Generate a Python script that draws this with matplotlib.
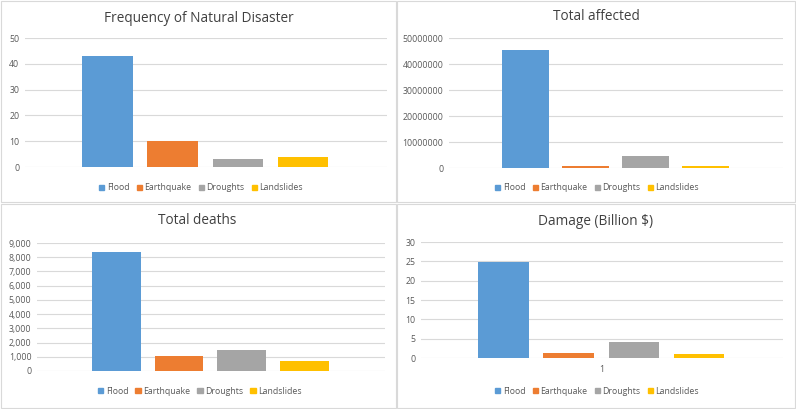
import numpy as np
import matplotlib
matplotlib.use("Agg")
import matplotlib.pyplot as plt
from matplotlib.patches import Rectangle
from matplotlib.ticker import FuncFormatter

# data
disasters = ["Flood", "Earthquake", "Droughts", "Landslides"]
frequency = [43, 10, 3, 4]
total_affected = [45300000, 800000, 4600000, 900000]
total_deaths = [8370, 1050, 1470, 700]
damage_billion = [24.9, 1.3, 4.1, 1.0]

colors = ["#5B9BD5", "#ED7D31", "#A5A5A5", "#FFC000"]
plt.rcParams["font.family"] = ["Open Sans", "DejaVu Sans"]

W, H = 796, 409
fig = plt.figure(figsize=(W / 100, H / 100), dpi=100)
fig.patch.set_facecolor("white")


def px_axes(left, right, top, bottom):
    return fig.add_axes([left / W, 1 - bottom / H, (right - left) / W, (bottom - top) / H])


def panel(ax, values, ymax, step, title, title_xy, legend_xy, fmt=None, xlabel=None):
    x = np.arange(len(values))
    ax.bar(x, values, width=0.78, color=colors, label=disasters, zorder=3)
    ax.set_xlim(-1.27, 4.29)
    ax.set_ylim(0, ymax)
    ax.set_yticks(np.arange(0, ymax + step / 2, step))
    if fmt:
        ax.yaxis.set_major_formatter(FuncFormatter(fmt))
    ax.grid(axis="y", color="#d9d9d9", linewidth=0.8, zorder=0)
    for s in ax.spines.values():
        s.set_visible(False)
    ax.tick_params(axis="y", length=0, labelsize=6.3, labelcolor="#595959", pad=4)
    if xlabel:
        ax.set_xticks([1.5])
        ax.set_xticklabels([xlabel])
        ax.tick_params(axis="x", length=0, labelsize=6.3, labelcolor="#595959", pad=5)
    else:
        ax.set_xticks([])
    fig.text(title_xy[0] / W, 1 - title_xy[1] / H, title, ha="center", va="center",
             fontsize=9.8, color="#404040")
    handles = [Rectangle((0, 0), 1, 1, color=c) for c in colors]
    fig.legend(handles, disasters, loc="center", bbox_to_anchor=(legend_xy[0] / W, 1 - legend_xy[1] / H),
               ncol=4, frameon=False, fontsize=6.3, labelcolor="#595959",
               handlelength=0.6, handleheight=0.6, handletextpad=0.3, columnspacing=0.8)


ax1 = px_axes(25, 387, 38, 167)
panel(ax1, frequency, 50, 10, "Frequency of Natural Disaster", (199, 18), (201, 188))

ax2 = px_axes(449, 783, 38, 168)
panel(ax2, total_affected, 50000000, 10000000, "Total affected", (596, 17), (597, 188),
      fmt=lambda v, p: f"{int(v)}")

ax3 = px_axes(37, 385, 243, 371)
panel(ax3, total_deaths, 9000, 1000, "Total deaths", (197, 221), (200, 391),
      fmt=lambda v, p: f"{int(v):,}")

ax4 = px_axes(421, 783, 242, 358)
panel(ax4, damage_billion, 30, 5, "Damage (Billion $)", (596, 222), (597, 391), xlabel="1")

# light panel borders
border = "#d9d9d9"
for (l, t, r, b) in [(1, 1, 396, 202), (397, 1, 795, 202), (1, 204, 396, 408), (397, 204, 795, 408)]:
    fig.add_artist(Rectangle((l / W, 1 - b / H), (r - l) / W, (b - t) / H, transform=fig.transFigure,
                             fill=False, edgecolor=border, linewidth=0.8))

fig.savefig("out.png", dpi=100)
